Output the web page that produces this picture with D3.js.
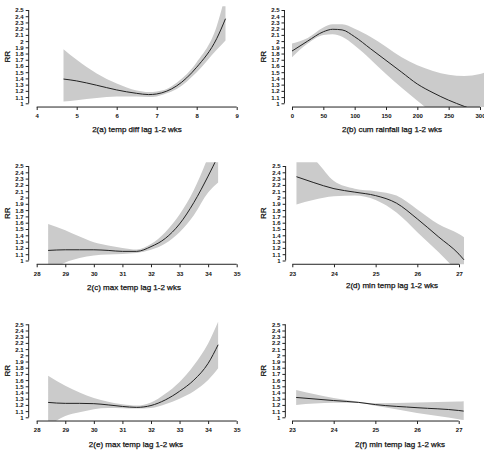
<!DOCTYPE html>
<html>
<head>
<meta charset="utf-8">
<script src="https://cdn.jsdelivr.net/npm/d3@7"></script>
<style>
  body { margin: 0; background: #fff; }
  svg { display: block; }
  text { font-family: "Liberation Sans", Arial, sans-serif; fill: #111; }
</style>
</head>
<body>
<svg id="drawing_region" width="484" height="450"></svg>
<script>
// RR axis, shared by all six panels
const yTicks = [1, 1.1, 1.2, 1.3, 1.4, 1.5, 1.6, 1.7, 1.8, 1.9, 2, 2.1, 2.2, 2.3, 2.4, 2.5];
const yTickLabels = ["1", "1.1", "1.2", "1.3", "1.4", "1.5", "1.6", "1.7", "1.8", "1.9", "2", "2.1", "2.2", "2.3", "2.4", "2.5"];

// 2(a) temp diff
const aTicks = [4, 5, 6, 7, 8, 9];
const aX   = [4.67, 5, 5.5, 6, 6.5, 6.8, 7, 7.25, 7.5, 8, 8.5, 8.72];
const aFit = [1.39, 1.36, 1.29, 1.215, 1.16, 1.14, 1.15, 1.195, 1.28, 1.58, 2.04, 2.36];
const aUp  = [1.87, 1.70, 1.48, 1.32, 1.205, 1.18, 1.19, 1.23, 1.33, 1.66, 2.24, 2.75];
const aLow = [1.03, 1.05, 1.085, 1.11, 1.11, 1.10, 1.11, 1.16, 1.23, 1.50, 1.86, 2.01];

// 2(b) cum rainfall
const bTicks = [0, 50, 100, 150, 200, 250, 300];
const bX   = [0, 25, 50, 65, 80, 100, 125, 150, 175, 200, 225, 250, 275, 300, 312];
const bFit = [1.84, 2.00, 2.15, 2.19, 2.18, 2.07, 1.88, 1.69, 1.50, 1.31, 1.17, 1.05, 0.95, 0.86, 0.82];
const bUp  = [1.96, 2.05, 2.22, 2.27, 2.27, 2.20, 2.07, 1.91, 1.74, 1.61, 1.52, 1.46, 1.44, 1.47, 1.51];
const bLow = [1.74, 1.96, 2.10, 2.11, 2.07, 1.93, 1.71, 1.47, 1.25, 1.04, 0.84, 0.66, 0.50, 0.35, 0.30];

// 2(c) max temp
const cTicks = [28, 29, 30, 31, 32, 33, 34, 35];
const cX   = [28.4, 29, 29.5, 30, 30.5, 31, 31.5, 32, 32.5, 33, 33.5, 34, 34.35];
const cFit = [1.16, 1.17, 1.17, 1.17, 1.16, 1.145, 1.145, 1.22, 1.35, 1.58, 1.92, 2.34, 2.66];
const cUp  = [1.58, 1.48, 1.38, 1.29, 1.24, 1.20, 1.175, 1.26, 1.45, 1.73, 2.12, 2.65, 3.10];
const cLow = [0.82, 0.97, 1.04, 1.08, 1.095, 1.105, 1.12, 1.17, 1.27, 1.45, 1.72, 2.08, 2.24];

// 2(d) min temp
const dTicks = [23, 24, 25, 26, 27];
const dX   = [23.1, 23.5, 24, 24.5, 25, 25.5, 26, 26.5, 27, 27.12];
const dFit = [2.33, 2.24, 2.14, 2.085, 2.03, 1.91, 1.66, 1.38, 1.10, 1.01];
const dUp  = [2.75, 2.62, 2.26, 2.14, 2.10, 2.03, 1.81, 1.58, 1.42, 1.37];
const dLow = [1.89, 1.96, 2.02, 2.03, 1.96, 1.76, 1.45, 1.14, 0.80, 0.72];

// 2(e) max temp
const eTicks = [28, 29, 30, 31, 32, 33, 34, 35];
const eX   = [28.4, 29, 29.5, 30, 30.5, 31, 31.5, 32, 32.5, 33, 33.5, 34, 34.35];
const eFit = [1.24, 1.225, 1.225, 1.22, 1.20, 1.175, 1.16, 1.19, 1.28, 1.42, 1.60, 1.87, 2.17];
const eUp  = [1.67, 1.51, 1.40, 1.31, 1.25, 1.21, 1.19, 1.24, 1.38, 1.57, 1.84, 2.19, 2.54];
const eLow = [0.86, 1.02, 1.08, 1.13, 1.15, 1.145, 1.14, 1.15, 1.21, 1.30, 1.42, 1.60, 1.79];

// 2(f) min temp
const fTicks = [23, 24, 25, 26, 27];
const fX   = [23.1, 24, 24.6, 25, 26, 27, 27.12];
const fFit = [1.32, 1.27, 1.24, 1.205, 1.155, 1.11, 1.10];
const fUp  = [1.44, 1.31, 1.25, 1.225, 1.24, 1.255, 1.26];
const fLow = [1.20, 1.235, 1.23, 1.185, 1.07, 0.97, 0.955];

// layout: pixel spots of first/last x tick and of RR = 1 / 2.5
const panels = [
    { id: "a", title: "2(a) temp diff lag 1-2 wks", ticks: aTicks, x: aX, fit: aFit, up: aUp, low: aLow,
      xr: [36.7, 236.7], yr: [103.3, 10], titleX: 137, titleY: 132, rrX: 10 },
    { id: "b", title: "2(b) cum rainfall lag 1-2 wks", ticks: bTicks, x: bX, fit: bFit, up: bUp, low: bLow,
      xr: [292, 480], yr: [103.3, 10], titleX: 392, titleY: 132, rrX: 266 },
    { id: "c", title: "2(c) max temp lag 1-2 wks", ticks: cTicks, x: cX, fit: cFit, up: cUp, low: cLow,
      xr: [36.7, 236.7], yr: [260.5, 166], titleX: 134, titleY: 289.5, rrX: 10 },
    { id: "d", title: "2(d) min temp lag 1-2 wks", ticks: dTicks, x: dX, fit: dFit, up: dUp, low: dLow,
      xr: [292.3, 459], yr: [260.5, 166], titleX: 392, titleY: 288, rrX: 266 },
    { id: "e", title: "2(e) max temp lag 1-2 wks", ticks: eTicks, x: eX, fit: eFit, up: eUp, low: eLow,
      xr: [36.7, 236.7], yr: [417.3, 324.3], titleX: 136, titleY: 447, rrX: 10 },
    { id: "f", title: "2(f) min temp lag 1-2 wks", ticks: fTicks, x: fX, fit: fFit, up: fUp, low: fLow,
      xr: [292, 458.7], yr: [417.3, 324.3], titleX: 400, titleY: 447, rrX: 266 }
];

const svg = d3.select('#drawing_region');
const defs = svg.append('defs');

panels.forEach(p => {
    const t0 = p.ticks[0], t1 = p.ticks[p.ticks.length - 1];
    const xscale = d3.scaleLinear().domain([t0, t1]).range(p.xr);
    const yscale = d3.scaleLinear().domain([1, 2.5]).range(p.yr);

    // R style plot region: 4% extension on both axes
    const pad = (t1 - t0) * 0.04;
    const left = xscale(t0 - pad), right = Math.min(xscale(t1 + pad), 484);
    const top = yscale(2.56), bottom = yscale(0.94);

    defs.append('clipPath').attr('id', 'clip-' + p.id)
        .append('rect')
        .attr('x', left).attr('y', top)
        .attr('width', right - left).attr('height', bottom - top);

    const rows = p.x.map((v, i) => ({ x: v, fit: p.fit[i], up: p.up[i], low: p.low[i] }));
    const g = svg.append('g');
    const plot = g.append('g').attr('clip-path', `url(#clip-${p.id})`);

    plot.append('path').datum(rows)
        .attr('fill', '#cbcbcb')
        .attr('d', d3.area()
            .x(d => xscale(d.x))
            .y0(d => yscale(d.low))
            .y1(d => yscale(d.up))
            .curve(d3.curveMonotoneX));

    plot.append('path').datum(rows)
        .attr('fill', 'none')
        .attr('stroke', '#222')
        .attr('stroke-width', 1)
        .attr('d', d3.line()
            .x(d => xscale(d.x))
            .y(d => yscale(d.fit))
            .curve(d3.curveMonotoneX));

    // x axis
    const xg = g.append('g')
        .attr('transform', `translate(0, ${bottom})`)
        .call(d3.axisBottom(xscale).tickValues(p.ticks).tickSize(3).tickPadding(4).tickFormat(d3.format('d')));
    xg.select('.domain').remove();
    xg.append('line').attr('x1', xscale(t0)).attr('x2', xscale(t1)).attr('stroke', '#222');
    xg.selectAll('.tick line').attr('stroke', '#222');
    xg.selectAll('text').attr('font-size', 6).attr('font-weight', 'bold')
        .attr('font-family', '"Liberation Sans", Arial, sans-serif').attr('fill', '#111');

    // y axis
    const yg = g.append('g')
        .attr('transform', `translate(${left}, 0)`)
        .call(d3.axisLeft(yscale).tickValues(yTicks).tickSize(3).tickPadding(2)
            .tickFormat((d, i) => yTickLabels[i]));
    yg.select('.domain').remove();
    yg.append('line').attr('y1', yscale(1)).attr('y2', yscale(2.5)).attr('stroke', '#222');
    yg.selectAll('.tick line').attr('stroke', '#222');
    yg.selectAll('text').attr('font-size', 6).attr('font-weight', 'bold')
        .attr('font-family', '"Liberation Sans", Arial, sans-serif').attr('fill', '#111');

    // labels, a touch heavier like the scanned original
    g.append('text')
        .attr('x', p.titleX).attr('y', p.titleY)
        .attr('text-anchor', 'middle')
        .attr('font-size', 8)
        .attr('stroke', '#111').attr('stroke-width', 0.25)
        .text(p.title);

    g.append('text')
        .attr('transform', `translate(${p.rrX}, ${(yscale(1) + yscale(2.5)) / 2}) rotate(-90)`)
        .attr('text-anchor', 'middle')
        .attr('font-size', 8)
        .attr('stroke', '#111').attr('stroke-width', 0.25)
        .text('RR');
});
</script>
</body>
</html>
